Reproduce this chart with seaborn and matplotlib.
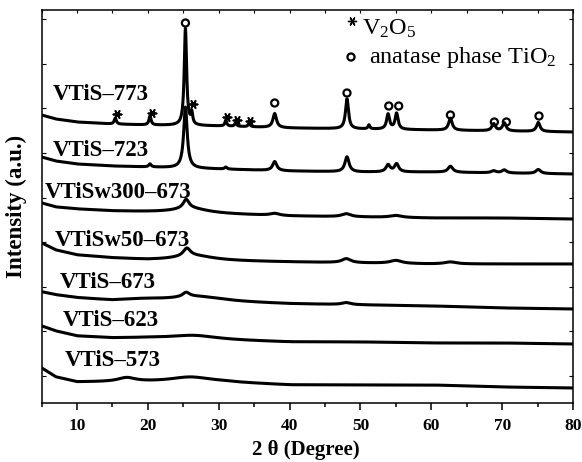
import numpy as np
import pandas as pd
import matplotlib
matplotlib.use("Agg")
import matplotlib.pyplot as plt
from matplotlib.ticker import MultipleLocator
import seaborn as sns

# ---------------- data ----------------
samples = ["VTiS\u2013773", "VTiS\u2013723", "VTiSw300\u2013673", "VTiSw50\u2013673",
           "VTiS\u2013673", "VTiS\u2013623", "VTiS\u2013573"]

# baseline (stacked, arbitrary units) at these 2-theta anchor points
anchor_2theta = [5, 7, 10, 15, 20, 30, 40, 50, 60, 70, 80]
base_773 = [288, 284, 281, 279, 278, 277, 275, 274, 273, 272, 271]
base_723 = [246, 242, 239, 237, 236, 234, 232, 231, 231, 230, 229]
base_w300 = [200, 196, 194, 192, 191, 189, 187, 186, 185, 185, 184]
base_w50 = [160, 153, 148, 145, 143, 142, 141, 140, 139, 139, 139]
base_673 = [111, 108, 105, 102, 102, 101, 99, 98, 97, 95, 94]
base_623 = [77, 72, 67, 65, 65, 63, 61, 61, 60, 60, 59]
base_573 = [35, 26, 21, 21, 21, 21, 18, 18, 18, 16, 15]

# peaks: (2theta centre, height, FWHM)
peaks_773 = [(15.4, 6, 0.35), (20.3, 9, 0.35), (25.3, 97, 0.40), (26.2, 11, 0.30),
             (31.0, 6, 0.30), (32.4, 4, 0.30), (34.3, 4, 0.30), (37.9, 14, 0.60),
             (48.1, 30, 0.50), (51.2, 4, 0.30), (53.9, 15, 0.50), (55.1, 16, 0.50),
             (62.7, 12, 0.60), (68.8, 7, 0.60), (70.3, 8, 0.60), (75.1, 9, 0.60)]
peaks_723 = [(20.3, 3, 0.40), (25.3, 61, 0.60), (31.0, 2, 0.40), (37.9, 9, 0.70),
             (48.1, 15, 0.70), (53.9, 7, 0.70), (55.1, 8, 0.70), (62.7, 6, 0.80),
             (68.8, 2, 0.80), (70.3, 3, 0.80), (75.1, 4, 0.80)]
peaks_w300 = [(25.4, 9, 1.0), (26.0, 5, 6.0), (37.9, 2, 1.5), (48.0, 3, 1.5), (55.0, 2, 2.0)]
peaks_w50 = [(25.5, 8, 1.2), (26.5, 5, 7.0), (48.0, 4, 1.5), (55.0, 3, 2.0), (62.7, 2, 2.0)]
peaks_673 = [(19.0, 1.5, 8.0), (25.4, 4.5, 1.2), (27.0, 5, 9.0), (48.0, 2, 1.5)]
peaks_623 = [(26.5, 4, 8.0)]
peaks_573 = [(17.0, 4, 3.0), (26.0, 5, 7.0)]

baselines = [base_773, base_723, base_w300, base_w50, base_673, base_623, base_573]
peak_sets = [peaks_773, peaks_723, peaks_w300, peaks_w50, peaks_673, peaks_623, peaks_573]

# phase markers on the VTiS-773 pattern
anatase_2theta = [25.3, 37.9, 48.1, 54.0, 55.4, 62.7, 68.9, 70.6, 75.2]
anatase_level = [380, 300, 310, 297, 297, 288, 281, 281, 287]
v2o5_2theta = [15.6, 20.6, 26.4, 31.1, 32.6, 34.4]
v2o5_level = [289, 290, 299, 286, 283, 282]

# ---------------- build the table ----------------
grid = np.linspace(5, 80, 3001)
frames = []
for name, base, pk in zip(samples, baselines, peak_sets):
    y = np.interp(grid, anchor_2theta, base).astype(float)
    for c, h, w in pk:
        y = y + h / (1.0 + ((grid - c) / (w / 2.0)) ** 2)
    frames.append(pd.DataFrame({"two_theta": grid, "intensity": y, "sample": name}))
df = pd.concat(frames, ignore_index=True)

# ---------------- style ----------------
sns.set_theme(style="white")
plt.rcParams["font.family"] = ["Liberation Serif", "DejaVu Serif"]
plt.rcParams["mathtext.fontset"] = "custom"
plt.rcParams["mathtext.rm"] = "Liberation Serif"
plt.rcParams["mathtext.it"] = "Liberation Serif:italic"
for key in ["text.color", "axes.labelcolor", "xtick.color", "ytick.color", "axes.edgecolor"]:
    plt.rcParams[key] = "black"

fig = plt.figure(figsize=(5.82, 4.62), dpi=100)
ax = fig.add_axes([41.6 / 582, 59 / 462, 531.4 / 582, 393 / 462])

sns.lineplot(data=df, x="two_theta", y="intensity", hue="sample",
             palette=["black"] * len(samples), estimator=None, legend=False,
             linewidth=2.2, ax=ax)

ax.set_xlim(5, 80)
ax.set_ylim(0, 393)

star = (6, 2, 90)
# markers
ax.scatter(anatase_2theta, anatase_level, s=26, marker="o", facecolors="none",
           edgecolors="black", linewidths=1.6, zorder=5)
ax.scatter(v2o5_2theta, v2o5_level, s=34, marker=star, color="black",
           linewidths=1.3, zorder=5)

# sample labels
label_pos = [(6.6, 308), (6.6, 253), (5.5, 211), (6.9, 163), (7.6, 120), (8.0, 83), (8.3, 42)]
for name, (lx, ly) in zip(samples, label_pos):
    ax.text(lx, ly, name, fontsize=16.5, fontweight="bold", ha="left", va="center",
            color="black")

# phase key
def axfrac(px, py):
    return ((px - 41.6) / 531.4, (403 - py) / 393)

ax.scatter(*axfrac(352, 21), transform=ax.transAxes, s=34, marker=star,
           color="black", linewidths=1.0, clip_on=False)
ax.text(*axfrac(362, 35), r"V$_2$O$_5$", transform=ax.transAxes, fontsize=17.5,
        ha="left", va="baseline")
ax.scatter(*axfrac(351, 57), transform=ax.transAxes, s=26, marker="o",
           facecolors="none", edgecolors="black", linewidths=1.6, clip_on=False)
ax.text(*axfrac(369, 63), r"anatase phase TiO$_2$", transform=ax.transAxes,
        fontsize=17.5, ha="left", va="baseline")

# axes / ticks
ax.xaxis.set_major_locator(MultipleLocator(10))
ax.xaxis.set_minor_locator(MultipleLocator(5))
ax.set_yticks([27 + 44.6 * k for k in range(9)])
ax.tick_params(axis="x", which="major", direction="out", length=5, width=1.1,
               top=False, bottom=True, labelsize=12.5, pad=6, color="black")
ax.tick_params(axis="x", which="minor", direction="out", length=3, width=1.1,
               top=False, bottom=True, color="black")
ax.tick_params(axis="y", which="major", direction="in", length=3, width=0.8,
               left=True, right=True, labelleft=False, color="black")
sec = ax.secondary_xaxis("top")
sec.xaxis.set_major_locator(MultipleLocator(5))
sec.tick_params(direction="in", length=2, width=0.8, labeltop=False, color="black")
sec.spines["top"].set_visible(False)
for lab in ax.get_xticklabels():
    lab.set_fontweight("bold")

for s in ax.spines.values():
    s.set_color("black")
    s.set_linewidth(1.1)

ax.set_xlabel("2 \u03b8 (Degree)", fontsize=15, fontweight="bold")
ax.xaxis.set_label_coords(0.4976, -0.094)
ax.set_ylabel("Intensity (a.u.)", fontsize=16.5, fontweight="bold")
ax.yaxis.set_label_coords(-0.028, 0.5)

fig.savefig("out.png", dpi=100)
